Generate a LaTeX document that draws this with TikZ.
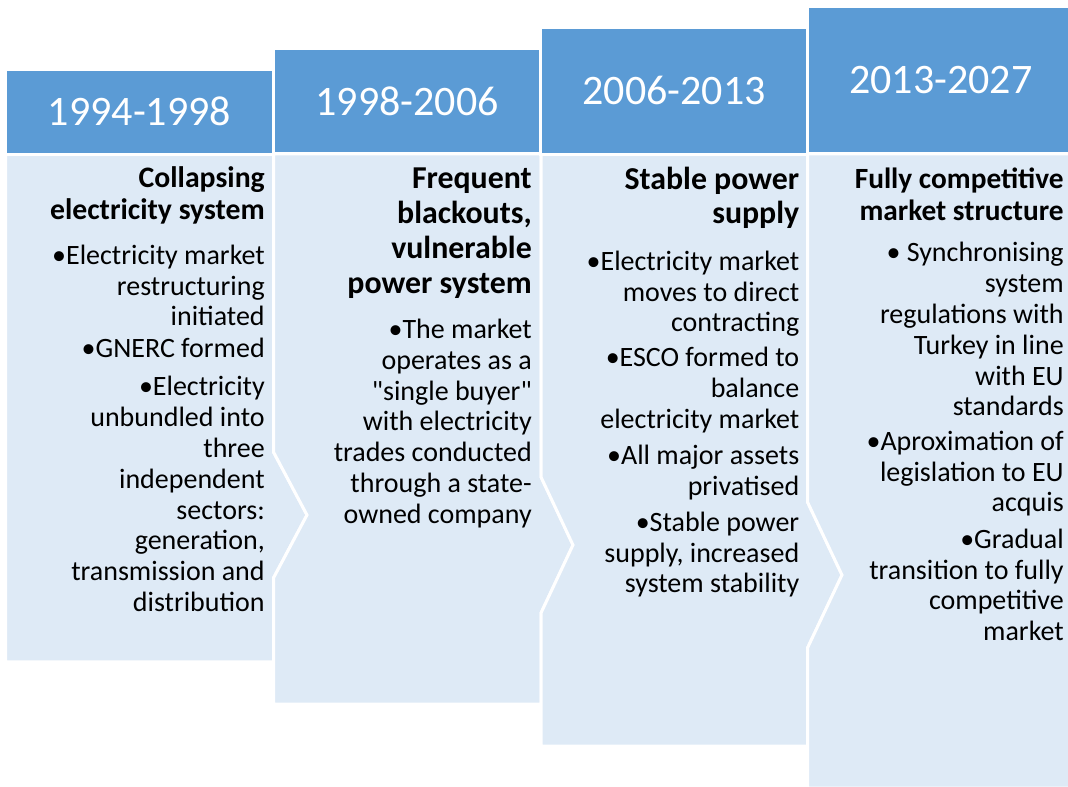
\documentclass[tikz,border=0pt]{standalone}
\usepackage{fontspec}
\setmainfont{Carlito}
\usepackage{xcolor}
\definecolor{head-blue}{HTML}{5B9BD5}
\definecolor{body-blue}{HTML}{DEEAF6}

\begin{document}
\begin{tikzpicture}[x=0.75pt, y=-0.75pt,
        head/.style={draw=white, line width=2.25pt, fill=head-blue, text=white,
            inner sep=0pt, font=\fontsize{31.5}{38}\selectfont},
        panel/.style={draw=white, line width=2.25pt, fill=body-blue},
        ttl/.style={anchor=north east, align=right, inner sep=0pt},
        itm/.style={anchor=north east, align=right, inner sep=0pt,
            font=\fontsize{21}{23.1}\selectfont}]
      \clip (0,0) rectangle (1068,787);
      % panels with chevron edges
      \path[panel] (5.5,154) -- (273.5,154) -- (273.5,452) -- (307,515) -- (273.5,578)
          -- (273.5,662) -- (5.5,662) -- cycle;
      \path[panel] (273.5,154) -- (541,154) -- (541,477) -- (573,545) -- (541,613)
          -- (541,704) -- (273.5,704) -- (273.5,578) -- (307,515) -- (273.5,452) -- cycle;
      \path[panel] (541,154) -- (807.5,154) -- (807.5,502) -- (842,575) -- (807.5,648)
          -- (807.5,746) -- (541,746) -- (541,613) -- (573,545) -- (541,477) -- cycle;
      \path[panel] (807.5,154) -- (1074,154) -- (1074,788) -- (807.5,788) -- (807.5,648)
          -- (842,575) -- (807.5,502) -- cycle;
      % headers
      \node[head, minimum width=201pt, minimum height=63.4pt] (h1) at (139.5,111.75) {1994-1998};
      \node[head, minimum width=200.6pt, minimum height=79.1pt] (h2) at (407.25,101.25) {1998-2006};
      \node[head, minimum width=199.9pt, minimum height=94.9pt] (h3) at (674.25,90.75) {2006-2013};
      \node[head, minimum width=199.9pt, minimum height=110.6pt] (h4) at (940.75,80.25) {2013-2027};
      % column 1
      \node[ttl, font=\bfseries\fontsize{22.3}{24}\selectfont] (t1) at (265,164.9)
          {\strut Collapsing\\electricity system};
      \node[itm] (p11) at (265,242.4) {\strut•Electricity market\\restructuring\\initiated};
      \node[itm] (p12) at (265,335.4) {\strut•GNERC formed};
      \node[itm] (p13) at (265,374) {\strut•Electricity\\unbundled into\\three\\independent\\sectors:\\generation,\\transmission and\\distribution};
      % column 2
      \node[ttl, font=\bfseries\fontsize{23.9}{26.25}\selectfont] (t2) at (532,163.8)
          {\strut Frequent\\blackouts,\\vulnerable\\power system};
      \node[itm] (p21) at (532,316.7) {\strut•The market\\operates as a\\\textquotedbl single buyer\textquotedbl\\with electricity\\trades conducted\\through a state-\\owned company};
      % column 3
      \node[ttl, font=\bfseries\fontsize{23.9}{25.5}\selectfont] (t3) at (799.5,165.5)
          {\strut Stable power\\supply};
      \node[itm] (p31) at (799.5,248.4) {\strut•Electricity market\\moves to direct\\contracting};
      \node[itm] (p32) at (799.5,345.1) {\strut•ESCO formed to\\balance\\electricity market};
      \node[itm] (p33) at (799.5,442.4) {\strut•All major assets\\privatised};
      \node[itm] (p34) at (799.5,509.4) {\strut•Stable power\\supply, increased\\system stability};
      % column 4
      \node[ttl, font=\bfseries\fontsize{22}{24}\selectfont] (t4) at (1064,165.9)
          {\strut Fully competitive\\market structure};
      \node[itm] (p41) at (1064,240.1) {\strut• Synchronising\\system\\regulations with\\Turkey in line\\with EU\\standards};
      \node[itm] (p42) at (1064,428.4) {\strut•Aproximation of\\legislation to EU\\acquis};
      \node[itm] (p43) at (1064,526.4) {\strut•Gradual\\transition to fully\\competitive\\market};
    \end{tikzpicture}
\end{document}
